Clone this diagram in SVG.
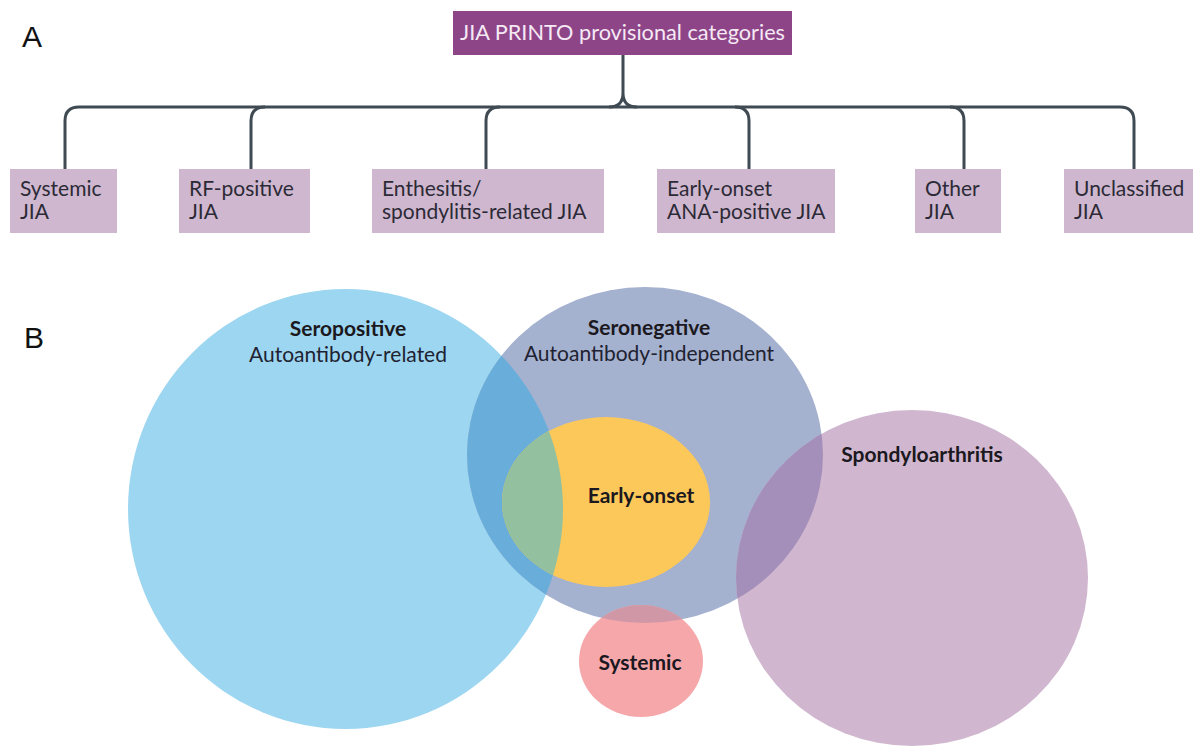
<svg xmlns="http://www.w3.org/2000/svg" width="1193" height="749" viewBox="0 0 1193 749">
  <style>
    .panel { font-family: "Liberation Sans", Arial, sans-serif; font-size: 30px; fill: #111; }
    .title-box { fill: #8d4588; }
    .title-text { font-family: Lato, "Open Sans", sans-serif; font-size: 21.7px; fill: #f5e9f4; }
    .cat-box { fill: #cfb8cf; }
    .cat-text { font-family: Lato, "Open Sans", sans-serif; font-size: 21px; fill: #2c2a36; }
    .link { fill: none; stroke: #3f4a52; stroke-width: 3; }
    .vb { font-family: Lato, "Open Sans", sans-serif; font-size: 21px; font-weight: bold; fill: #1b1820; text-anchor: middle; }
    .vr { font-family: Lato, "Open Sans", sans-serif; font-size: 21px; fill: #1f2230; text-anchor: middle; }
  </style>
  <defs>
    <clipPath id="clip-seropos"><ellipse cx="345.5" cy="509" rx="217.5" ry="220"/></clipPath>
    <clipPath id="clip-seroneg"><ellipse cx="645" cy="455" rx="178" ry="168"/></clipPath>
  </defs>

  <rect width="1193" height="749" fill="#ffffff"/>

  <!-- panel letters -->
  <text class="panel" x="22" y="47">A</text>
  <text class="panel" x="24" y="348">B</text>

  <!-- tree connectors -->
  <g id="connectors">
    <path class="link" d="M623,55 V93 Q623,107 609,107 M623,93 Q623,107 637,107"/>
    <path class="link" d="M65,169 V121 Q65,107 79,107 H1120 Q1134,107 1134,121 V169"/>
    <path class="link" d="M251,169 V121 Q251,107 265,107"/>
    <path class="link" d="M486,169 V121 Q486,107 500,107"/>
    <path class="link" d="M749,169 V121 Q749,107 735,107"/>
    <path class="link" d="M964,169 V121 Q964,107 950,107"/>
  </g>

  <!-- root -->
  <g id="root">
    <rect class="title-box" x="453" y="11" width="339" height="44"/>
    <text class="title-text" x="622.5" y="40" text-anchor="middle">JIA PRINTO provisional categories</text>
  </g>

  <!-- categories -->
  <g id="cat-systemic">
    <rect class="cat-box" x="10" y="169" width="107" height="64"/>
    <text class="cat-text" x="20" y="196">Systemic</text>
    <text class="cat-text" x="20" y="219">JIA</text>
  </g>
  <g id="cat-rf">
    <rect class="cat-box" x="179" y="169" width="131" height="64"/>
    <text class="cat-text" x="189" y="196">RF-positive</text>
    <text class="cat-text" x="189" y="219">JIA</text>
  </g>
  <g id="cat-enthesitis">
    <rect class="cat-box" x="372" y="169" width="232" height="64"/>
    <text class="cat-text" x="382" y="196">Enthesitis/</text>
    <text class="cat-text" x="382" y="219">spondylitis-related JIA</text>
  </g>
  <g id="cat-early">
    <rect class="cat-box" x="657" y="169" width="178" height="64"/>
    <text class="cat-text" x="667" y="196">Early-onset</text>
    <text class="cat-text" x="667" y="219">ANA-positive JIA</text>
  </g>
  <g id="cat-other">
    <rect class="cat-box" x="915" y="169" width="86" height="64"/>
    <text class="cat-text" x="925" y="196">Other</text>
    <text class="cat-text" x="925" y="219">JIA</text>
  </g>
  <g id="cat-unclassified">
    <rect class="cat-box" x="1064" y="169" width="140" height="64"/>
    <text class="cat-text" x="1074" y="196">Unclassified</text>
    <text class="cat-text" x="1074" y="219">JIA</text>
  </g>

  <!-- Venn sets -->
  <g id="set-seropositive">
    <ellipse cx="345.5" cy="509" rx="217.5" ry="220" fill="#9dd6f0"/>
  </g>
  <g id="set-seronegative">
    <ellipse cx="645" cy="455" rx="178" ry="168" fill="#a4b1cf"/>
    <ellipse cx="645" cy="455" rx="178" ry="168" fill="#69aedb" clip-path="url(#clip-seropos)"/>
  </g>
  <g id="set-early-onset">
    <ellipse cx="606" cy="502" rx="104" ry="85" fill="#fdc85a"/>
    <ellipse cx="606" cy="502" rx="104" ry="85" fill="#93c09e" clip-path="url(#clip-seropos)"/>
  </g>
  <g id="set-spondyloarthritis">
    <ellipse cx="912" cy="578" rx="176" ry="168" fill="#d0b7cf"/>
    <ellipse cx="912" cy="578" rx="176" ry="168" fill="#a38fb9" clip-path="url(#clip-seroneg)"/>
  </g>
  <g id="set-systemic">
    <ellipse cx="641" cy="661" rx="62" ry="56" fill="#f6a7aa"/>
    <ellipse cx="641" cy="661" rx="62" ry="56" fill="#d098a6" clip-path="url(#clip-seroneg)"/>
  </g>

  <!-- set labels -->
  <g id="labels">
    <text class="vb" x="348" y="336">Seropositive</text>
    <text class="vr" x="348" y="362">Autoantibody-related</text>
    <text class="vb" x="649" y="335">Seronegative</text>
    <text class="vr" x="649" y="361">Autoantibody-independent</text>
    <text class="vb" x="922" y="462">Spondyloarthritis</text>
    <text class="vb" x="641" y="503">Early-onset</text>
    <text class="vb" x="640" y="670">Systemic</text>
  </g>
</svg>
